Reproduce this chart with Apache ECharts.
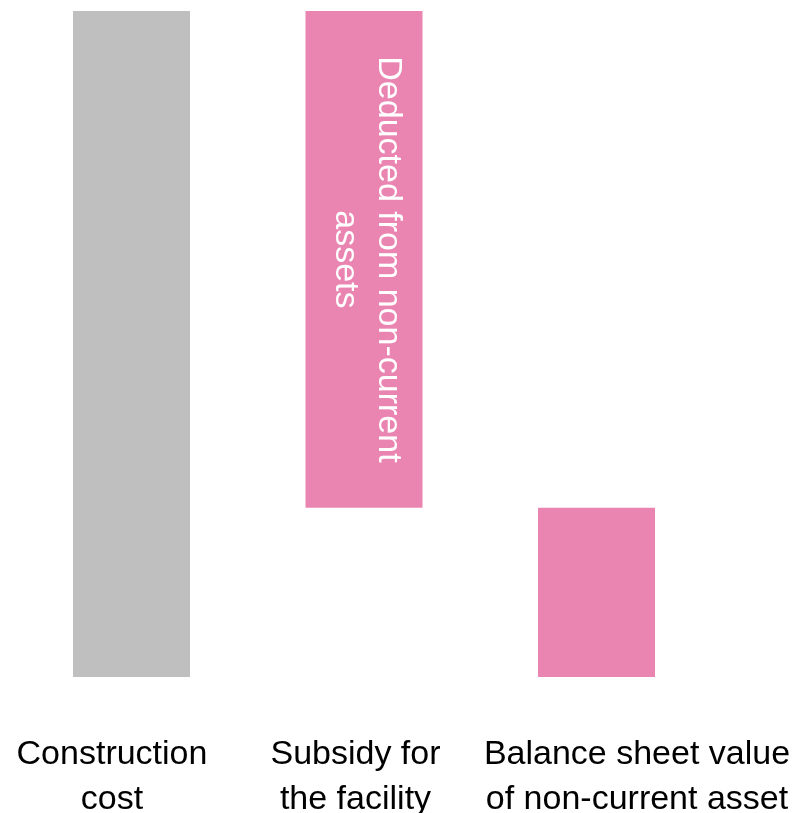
<!DOCTYPE html>
<html>
<head>
<meta charset="utf-8">
<script src="https://cdn.jsdelivr.net/npm/echarts@6/dist/echarts.min.js"></script>
<style>
html,body{margin:0;padding:0;background:#fff;}
#chart{width:797px;height:813px;}
</style>
</head>
<body>
<div id="chart"></div>
<script>
const categories = ['Construction\ncost', 'Subsidy for\nthe facility', 'Balance sheet value\nof non-current asset'];
const baseValues = [0, 25.4, 0];
const barValues = [100, 74.6, 25.4];
const barColors = ['#BFBFBF', '#EA85B2', '#EA85B2'];
const barLabels = ['', 'Deducted from non-current\nassets', ''];
const labelShift = [-19.5, -8.5, 40.5];

const richStyles = {};
labelShift.forEach((s, i) => {
  richStyles['l' + i] = {
    fontFamily: 'Liberation Sans',
    fontSize: 34,
    lineHeight: 45,
    color: '#000',
    padding: s < 0 ? [0, -2 * s, 0, 0] : [0, 0, 0, 2 * s]
  };
});

const chart = echarts.init(document.getElementById('chart'), null, {renderer: 'canvas'});
chart.setOption({
  animation: false,
  grid: {left: 15.25, right: 84.25, top: 11, bottom: 136, containLabel: false, outerBoundsMode: 'none'},
  xAxis: {
    type: 'category',
    data: categories,
    axisLine: {show: false},
    axisTick: {show: false},
    splitLine: {show: false},
    axisLabel: {
      interval: 0,
      margin: 55,
      formatter: function (v, i) {
        return v.split('\n').map(t => '{l' + i + '|' + t + '}').join('\n');
      },
      rich: richStyles
    }
  },
  yAxis: {
    type: 'value',
    min: 0,
    max: 100,
    show: false,
    splitLine: {show: false}
  },
  series: [
    {
      type: 'bar',
      stack: 'w',
      barWidth: 117,
      itemStyle: {color: 'rgba(0,0,0,0)'},
      data: baseValues,
      silent: true
    },
    {
      type: 'bar',
      stack: 'w',
      barWidth: 117,
      data: barValues.map((v, i) => ({
        value: v,
        itemStyle: {color: barColors[i]},
        label: {
          show: barLabels[i] !== '',
          formatter: barLabels[i],
          position: 'inside',
          rotate: -90,
          align: 'center',
          verticalAlign: 'middle',
          offset: [0, -3],
          color: '#fff',
          fontFamily: 'Liberation Sans',
          fontSize: 34,
          lineHeight: 43
        }
      }))
    }
  ]
});
</script>
</body>
</html>
